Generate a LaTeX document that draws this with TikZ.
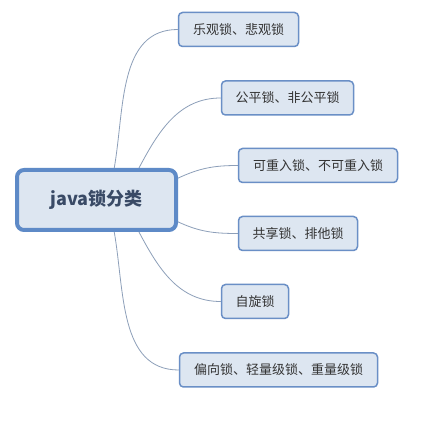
\documentclass[tikz,border=0pt]{standalone}
\usepackage{fontspec}
\newfontfamily\cjk{Noto Sans CJK SC}
\usetikzlibrary{backgrounds}
\definecolor{rootline}{HTML}{5E8AC7}
\definecolor{boxline}{HTML}{6A8FC6}
\definecolor{boxfill}{HTML}{DDE6F1}
\definecolor{roottext}{HTML}{394A66}
\definecolor{leaftext}{HTML}{333333}
\definecolor{linkline}{HTML}{8D9FB9}
\begin{document}
\begin{tikzpicture}[x=1pt,y=-1pt,
  rootbox/.style={draw=rootline,line width=4pt,fill=boxfill,rounded corners=7pt,
    minimum width=159pt,minimum height=60pt,inner sep=0pt,
    font=\cjk\bfseries\fontsize{18}{20}\selectfont,text=roottext},
  leafbox/.style={draw=boxline,line width=1.5pt,fill=boxfill,rounded corners=4pt,
    minimum height=34pt,inner sep=0pt,
    font=\cjk\fontsize{13}{15}\selectfont,text=leaftext},
  link/.style={draw=linkline,line width=0.8pt}]
\useasboundingbox (0,0) rectangle (447,427);
\node[rootbox] (root) at (96.5,200) {java锁分类};
\node[leafbox,minimum width=120pt] (c1) at (238.5,29.5) {乐观锁、悲观锁};
\node[leafbox,minimum width=132pt] (c2) at (287.5,98) {公平锁、非公平锁};
\node[leafbox,minimum width=159pt] (c3) at (318,165.5) {可重入锁、不可重入锁};
\node[leafbox,minimum width=119pt] (c4) at (298,233.5) {共享锁、排他锁};
\node[leafbox,minimum width=67pt] (c5) at (255,301.5) {自旋锁};
\node[leafbox,minimum width=198pt] (c6) at (278.5,370) {偏向锁、轻量级锁、重量级锁};
\begin{pgfonlayer}{background}
\fill[white] (0,0) rectangle (447,427);
\draw[link] (root.61) to[out=80,in=180] (c1.west);
\draw[link] (root.37) to[out=62,in=180] (c2.west);
\draw[link] (root.15.5) to[out=25,in=180] (c3.west);
\draw[link] (root.-15.5) to[out=-25,in=180] (c4.west);
\draw[link] (root.-37) to[out=-62,in=180] (c5.west);
\draw[link] (root.-61) to[out=-80,in=180] (c6.west);
\end{pgfonlayer}
\end{tikzpicture}
\end{document}
